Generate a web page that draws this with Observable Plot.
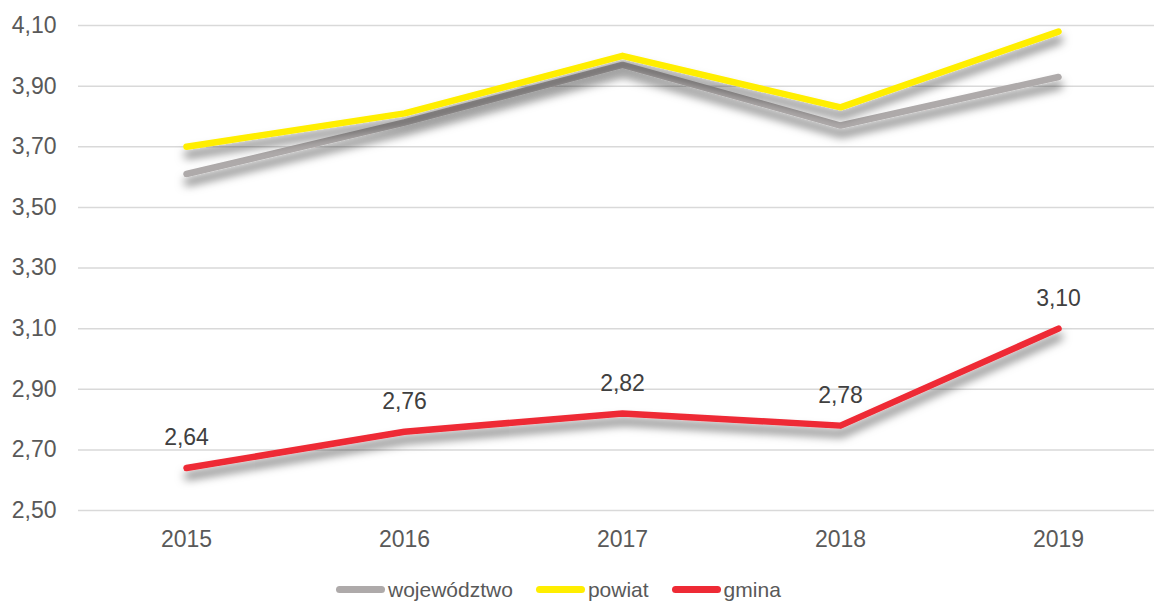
<!DOCTYPE html>
<html>
<head>
<meta charset="utf-8">
<script src="https://cdn.jsdelivr.net/npm/d3@7"></script>
<script src="https://cdn.jsdelivr.net/npm/@observablehq/plot@0.6"></script>
<style>
  html, body { margin: 0; padding: 0; background: #fff; }
  #wrap { position: relative; width: 1154px; height: 601px; overflow: hidden; font-family: "Liberation Sans", Arial, sans-serif; }
  #legend { position: absolute; left: 336px; top: 579px; display: flex; align-items: center; font-size: 21px; line-height: 21px; color: #595959; white-space: nowrap; }
  .item { display: flex; align-items: center; margin-right: 23px; }
  .sw { width: 49px; height: 7px; border-radius: 4px; margin-right: 3px; }
</style>
</head>
<body>
<div id="wrap"><div id="chart"></div><div id="legend"></div></div>
<script>
const years = [2015, 2016, 2017, 2018, 2019];
const seriesNames = ["województwo", "powiat", "gmina"];
const wojewodztwo = [3.61, 3.78, 3.97, 3.77, 3.93];
const powiat = [3.70, 3.81, 4.00, 3.83, 4.08];
const gmina = [2.64, 2.76, 2.82, 2.78, 3.10];
const yTicks = [2.5, 2.7, 2.9, 3.1, 3.3, 3.5, 3.7, 3.9, 4.1];
const colors = ["#AEAAAA", "#FFEE00", "#EE2A35"];

const valuesBySeries = [wojewodztwo, powiat, gmina];
const data = [];
seriesNames.forEach((s, i) => years.forEach((y, j) => data.push({series: s, year: y, value: valuesBySeries[i][j]})));
const gminaData = data.filter(d => d.series === "gmina");
const fmt = d => d.toFixed(2).replace(".", ",");

const chart = Plot.plot({
  width: 1154,
  height: 565,
  marginLeft: 78,
  marginRight: 0,
  marginTop: 25,
  marginBottom: 55,
  style: {fontFamily: "Liberation Sans, Arial, sans-serif", fontSize: "23px", color: "#595959", background: "#fff"},
  x: {type: "point", domain: years, range: [186, 1058], padding: 0, tickSize: 0, tickPadding: 20, tickFormat: d => String(d), label: null},
  y: {domain: [2.5, 4.1], ticks: yTicks, tickSize: 0, tickPadding: 22, tickFormat: fmt, label: null},
  color: {domain: seriesNames, range: colors},
  marks: [
    Plot.ruleY(yTicks, {stroke: "#D9D9D9", strokeWidth: 1.5}),
    Plot.line(data, {x: "year", y: "value", z: "series", stroke: "series", strokeWidth: 6.5, strokeLinecap: "round", strokeLinejoin: "round"}),
    Plot.text(gminaData, {x: "year", y: "value", text: d => fmt(d.value), dy: -30, fill: "#404040", fontSize: 23})
  ]
});

// drop shadow filter for lines
const ns = "http://www.w3.org/2000/svg";
const defs = document.createElementNS(ns, "defs");
defs.innerHTML = '<filter id="shadow" x="-10%" y="-50%" width="120%" height="200%"><feDropShadow dx="1" dy="8" stdDeviation="5" flood-color="#000" flood-opacity="0.55"/></filter>';
chart.insertBefore(defs, chart.firstChild);
chart.querySelectorAll('g[aria-label="line"] path').forEach(p => p.setAttribute("filter", "url(#shadow)"));
chart.querySelectorAll('g[aria-label="y-axis tick label"] text, g[aria-label="x-axis tick label"] text').forEach(t => t.setAttribute("fill", "#595959"));

document.getElementById("chart").appendChild(chart);

const legend = document.getElementById("legend");
seriesNames.forEach((s, i) => {
  const it = document.createElement("div");
  it.className = "item";
  const sw = document.createElement("div");
  sw.className = "sw";
  sw.style.background = colors[i];
  const tx = document.createElement("span");
  tx.textContent = s;
  it.appendChild(sw); it.appendChild(tx);
  legend.appendChild(it);
});
</script>
</body>
</html>
